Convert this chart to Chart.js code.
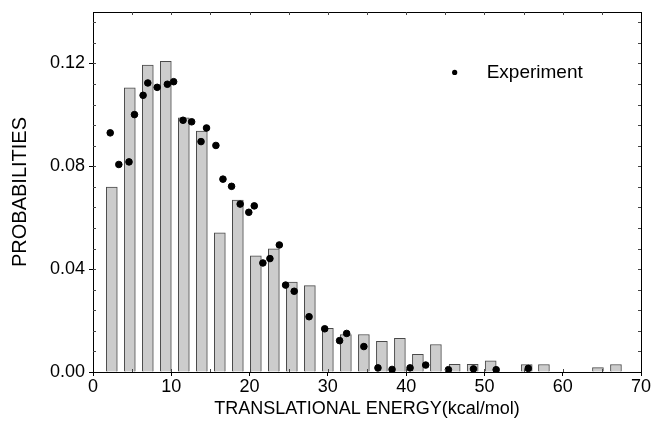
<!DOCTYPE html>
<html>
<head>
<meta charset="utf-8">
<script src="https://cdn.jsdelivr.net/npm/chart.js@4/dist/chart.umd.min.js"></script>
<style>
  html, body { margin: 0; padding: 0; background: #fff; }
  #wrap { width: 653px; height: 430px; }
</style>
</head>
<body>
<div id="wrap"><canvas id="c" width="653" height="430"></canvas></div>
<script>
// ---- data ----
const binCenters = [2.4, 4.7, 7.0, 9.3, 11.6, 13.9, 16.2, 18.5, 20.8, 23.1, 25.4, 27.7, 30.0, 32.3, 34.6, 36.9, 39.2, 41.5, 43.8, 46.2, 48.5, 50.8, 55.4, 57.6, 64.5, 66.8];
const binProbs   = [0.0719, 0.1105, 0.1194, 0.1208, 0.0988, 0.0937, 0.0541, 0.0669, 0.0452, 0.0479, 0.0350, 0.0336, 0.0170, 0.0146, 0.0146, 0.0119, 0.0131, 0.0069, 0.0107, 0.0030, 0.0030, 0.0043, 0.0029, 0.0029, 0.0017, 0.0029];
const expEnergy  = [2.2, 3.3, 4.6, 5.3, 6.4, 7.0, 8.2, 9.5, 10.3, 11.5, 12.6, 13.8, 14.5, 15.7, 16.6, 17.7, 18.8, 19.9, 20.6, 21.7, 22.6, 23.8, 24.6, 25.7, 27.6, 29.6, 31.5, 32.4, 34.6, 36.4, 38.2, 40.5, 42.5, 45.4, 48.6, 51.5, 55.6];
const expProbs   = [0.0930, 0.0807, 0.0817, 0.1001, 0.1076, 0.1124, 0.1107, 0.1119, 0.1129, 0.0979, 0.0973, 0.0896, 0.0949, 0.0881, 0.0750, 0.0722, 0.0653, 0.0621, 0.0646, 0.0424, 0.0441, 0.0494, 0.0338, 0.0314, 0.0215, 0.0168, 0.0122, 0.0150, 0.0099, 0.0016, 0.0010, 0.0016, 0.0027, 0.0009, 0.0012, 0.0009, 0.0014];
const xTicks = [0, 10, 20, 30, 40, 50, 60, 70];
const yTicks = [0, 0.04, 0.08, 0.12];
const xMinorStep = 5;
const yMinorStep = 0.008;
const xTitle = 'TRANSLATIONAL ENERGY(kcal/mol)';
const yTitle = 'PROBABILITIES';
const expLabel = 'Experiment';

const FONT = "'Liberation Sans', Arial, sans-serif";

const framePlugin = {
  id: 'frame',
  afterDatasetsDraw(chart) {
    const ctx = chart.ctx, a = chart.chartArea;
    const xs = chart.scales.x, ys = chart.scales.y;
    ctx.save();
    ctx.strokeStyle = '#000';
    ctx.lineWidth = 1;
    ctx.strokeRect(Math.round(a.left) + 0.5, Math.round(a.top) + 0.5, Math.round(a.right - a.left), Math.round(a.bottom - a.top));
    // minor inward ticks
    ctx.strokeStyle = '#444';
    ctx.beginPath();
    for (let v = xs.min + xMinorStep; v < xs.max; v += xMinorStep) {
      const px = Math.round(xs.getPixelForValue(v)) + 0.5;
      ctx.moveTo(px, a.bottom); ctx.lineTo(px, a.bottom - 3);
      ctx.moveTo(px, a.top); ctx.lineTo(px, a.top + 3);
    }
    for (let v = ys.min + yMinorStep; v < ys.max; v += yMinorStep) {
      const py = Math.round(ys.getPixelForValue(v)) + 0.5;
      ctx.moveTo(a.right, py); ctx.lineTo(a.right - 3, py);
      ctx.moveTo(a.left, py); ctx.lineTo(a.left + 3, py);
    }
    ctx.stroke();
    // legend
    const lx = xs.getPixelForValue(46.2), ly = ys.getPixelForValue(0.1165);
    ctx.fillStyle = '#000';
    ctx.beginPath(); ctx.arc(lx, ly, 2.6, 0, Math.PI * 2); ctx.fill();
    ctx.font = '19px ' + FONT;
    ctx.textBaseline = 'middle';
    ctx.textAlign = 'left';
    ctx.fillText(expLabel, lx + 32, ly);
    ctx.restore();
  }
};

new Chart(document.getElementById('c'), {
  data: {
    datasets: [
      {
        type: 'scatter',
        label: expLabel,
        data: expEnergy.map((x, i) => ({ x: x, y: expProbs[i] })),
        backgroundColor: '#000',
        borderColor: '#000',
        pointRadius: 3.3,
        pointHoverRadius: 3.3,
        order: 0
      },
      {
        type: 'bar',
        label: 'Theory',
        data: binCenters.map((x, i) => ({ x: x, y: binProbs[i] })),
        backgroundColor: '#cccccc',
        borderColor: '#4a4a4a',
        borderWidth: 1,
        barThickness: 11,
        order: 1
      }
    ]
  },
  options: {
    responsive: false,
    animation: false,
    events: [],
    layout: { padding: { top: 12, right: 12, left: 0, bottom: 0 } },
    plugins: { legend: { display: false }, tooltip: { enabled: false } },
    scales: {
      x: {
        type: 'linear',
        offset: false,
        min: 0, max: 70,
        afterBuildTicks: s => { s.ticks = xTicks.map(v => ({ value: v })); },
        afterFit: s => { s.height = 58; s.paddingRight = 0; s.paddingLeft = 0; },
        grid: { drawOnChartArea: false, tickLength: 4, color: '#000', offset: false },
        border: { display: true, color: '#000' },
        ticks: { color: '#000', font: { family: FONT, size: 18 }, padding: 0, maxRotation: 0 },
        title: { display: true, text: xTitle, color: '#000', font: { family: FONT, size: 18 }, padding: { top: 2, bottom: 10 } }
      },
      y: {
        type: 'linear',
        min: 0, max: 0.14,
        afterBuildTicks: s => { s.ticks = yTicks.map(v => ({ value: v })); },
        afterFit: s => { s.width = 93; s.paddingTop = 0; s.paddingBottom = 0; },
        grid: { drawOnChartArea: false, tickLength: 4, color: '#000' },
        border: { display: true, color: '#000' },
        ticks: { color: '#000', font: { family: FONT, size: 18 }, padding: 4, callback: v => v.toFixed(2) },
        title: { display: true, text: yTitle, color: '#000', font: { family: FONT, size: 20 }, padding: { top: 8, bottom: 4 } }
      }
    }
  },
  plugins: [framePlugin]
});
</script>
</body>
</html>
